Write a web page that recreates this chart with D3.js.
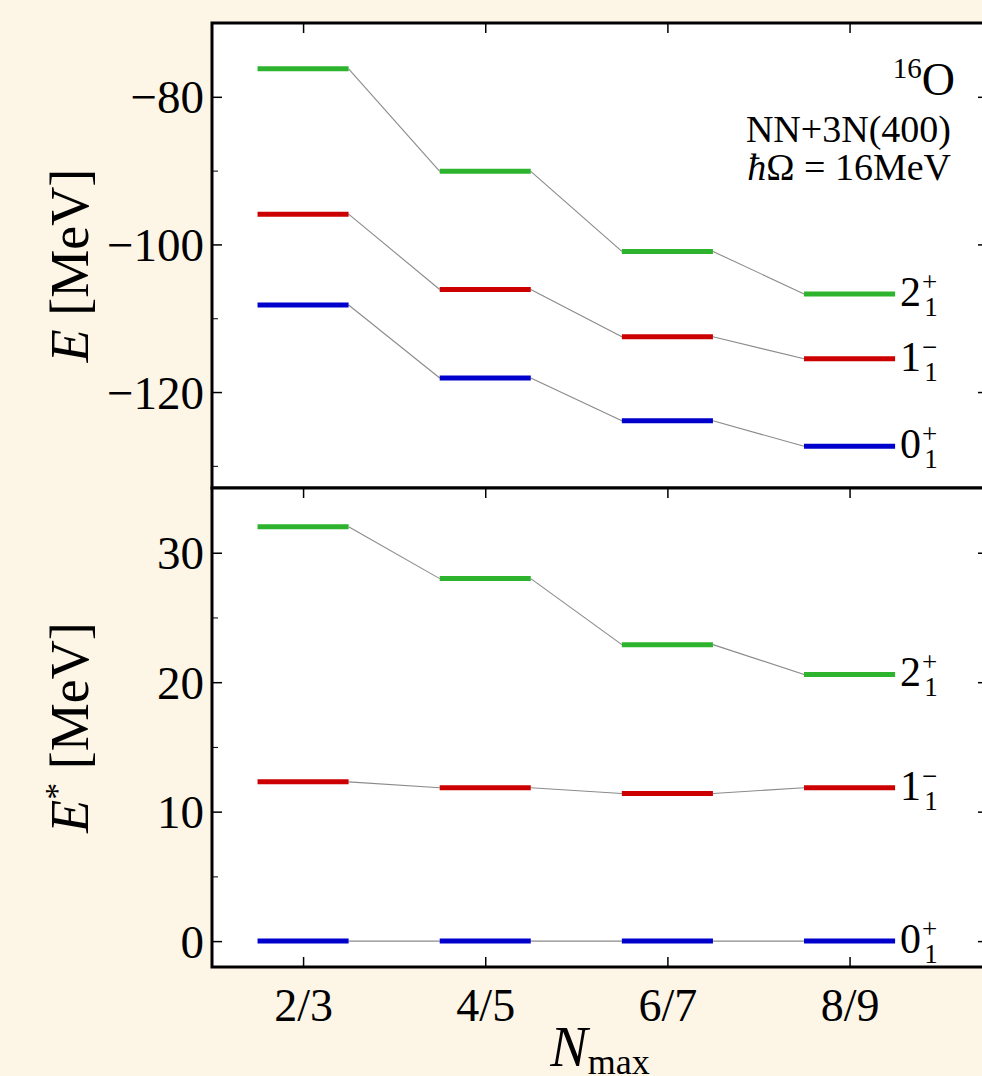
<!DOCTYPE html>
<html>
<head>
<meta charset="utf-8">
<script src="https://cdn.jsdelivr.net/npm/d3@7"></script>
<style>
  body { margin: 0; background: #fdf5e6; }
  svg { display: block; font-family: "Liberation Serif", "DejaVu Serif", serif; }
</style>
</head>
<body>
<svg id="chart" width="982" height="1076"></svg>
<script>
// N_max model spaces
const categories = ['2/3', '4/5', '6/7', '8/9'];

// absolute energies E [MeV]
const energyGround = [-108.2, -118.1, -123.9, -127.35];
const energyOneMinus = [-95.9, -106.1, -112.5, -115.5];
const energyTwoPlus = [-76.2, -90.1, -100.95, -106.7];

// excitation energies E* [MeV]
const excGround = [0, 0, 0, 0];
const excOneMinus = [12.3, 11.85, 11.4, 11.85];
const excTwoPlus = [32.0, 28.0, 22.9, 20.6];

const states = [
  { name: '0', sign: '+', color: '#0000cc' },
  { name: '1', sign: '\u2212', color: '#cc0000' },
  { name: '2', sign: '+', color: '#2db32d' }
];

const topTicks = [-80, -100, -120];
const topMinor = [-90, -110, -130];
const botTicks = [0, 10, 20, 30];
const botMinor = [5, 15, 25];

const svg = d3.select('#chart');
const pLeft = 212, pRight = 988, pTop = 23, pMid = 488, pBottom = 967;

const x = d3.scaleLinear().domain([-0.5, 3.76]).range([pLeft, pRight]);
const yTop = d3.scaleLinear().domain([-133, -70]).range([pMid, pTop]);
const yBot = d3.scaleLinear().domain([-2, 35]).range([pBottom, pMid]);
const halfW = 0.25;

function panel(y, series, major, minor, y0, y1) {
  const g = svg.append('g');
  g.append('rect')
    .attr('x', pLeft).attr('y', y0)
    .attr('width', pRight - pLeft).attr('height', y1 - y0)
    .attr('fill', '#fff');

  // connectors
  series.forEach(vals => {
    for (let i = 0; i < vals.length - 1; i++) {
      g.append('line')
        .attr('x1', x(i + halfW)).attr('y1', y(vals[i]))
        .attr('x2', x(i + 1 - halfW)).attr('y2', y(vals[i + 1]))
        .attr('stroke', '#8a8a8a').attr('stroke-width', 1.1);
    }
  });
  // levels
  series.forEach((vals, s) => {
    g.selectAll(null).data(vals).join('line')
      .attr('x1', (d, i) => x(i - halfW)).attr('x2', (d, i) => x(i + halfW))
      .attr('y1', d => y(d)).attr('y2', d => y(d))
      .attr('stroke', states[s].color).attr('stroke-width', 5);
    // level label J^pi_1
    const last = vals[vals.length - 1];
    const t = g.append('text')
      .attr('x', x(vals.length - 1 + halfW) + 5)
      .attr('y', y(last) + 12)
      .attr('font-size', 42);
    t.append('tspan').text(states[s].name);
    t.append('tspan').attr('font-size', 27).attr('dx', 1).attr('dy', -15).text(states[s].sign);
    t.append('tspan').attr('font-size', 27).attr('dx', -13).attr('dy', 25).text('1');
  });

  // left axis
  const la = g.append('g').attr('transform', `translate(${pLeft},0)`)
    .call(d3.axisLeft(y).tickValues(major).tickSize(-10).tickPadding(8)
      .tickFormat(d => d < 0 ? '\u2212' + Math.abs(d) : d));
  la.select('.domain').remove();
  la.selectAll('text').attr('font-size', 47).attr('font-family', 'Liberation Serif').attr('fill', '#000').attr('dy', '0.34em');
  la.selectAll('line').attr('stroke-width', 1.5);
  const lm = g.append('g').attr('transform', `translate(${pLeft},0)`)
    .call(d3.axisLeft(y).tickValues(minor).tickSize(-6).tickFormat(''));
  lm.select('.domain').remove();

  // right axis (ticks only)
  const ra = g.append('g').attr('transform', `translate(${pRight},0)`)
    .call(d3.axisRight(y).tickValues(major).tickSize(-10).tickFormat(''));
  ra.select('.domain').remove();
  ra.selectAll('line').attr('stroke-width', 1.5);
  const rm = g.append('g').attr('transform', `translate(${pRight},0)`)
    .call(d3.axisRight(y).tickValues(minor).tickSize(-6).tickFormat(''));
  rm.select('.domain').remove();

  // top x ticks
  const ta = g.append('g').attr('transform', `translate(0,${y0})`)
    .call(d3.axisTop(x).tickValues(d3.range(categories.length)).tickSize(-10).tickFormat(''));
  ta.select('.domain').remove();
  ta.selectAll('line').attr('stroke-width', 1.5);

  g.append('rect')
    .attr('x', pLeft).attr('y', y0)
    .attr('width', pRight - pLeft).attr('height', y1 - y0)
    .attr('fill', 'none').attr('stroke', '#000').attr('stroke-width', 3);
  return g;
}

panel(yTop, [energyGround, energyOneMinus, energyTwoPlus], topTicks, topMinor, pTop, pMid);
panel(yBot, [excGround, excOneMinus, excTwoPlus], botTicks, botMinor, pMid, pBottom);

// bottom x axis
const xa = svg.append('g').attr('transform', `translate(0,${pBottom})`)
  .call(d3.axisBottom(x).tickValues(d3.range(categories.length)).tickSize(-10).tickPadding(10)
    .tickFormat(i => categories[i]));
xa.select('.domain').remove();
xa.selectAll('line').attr('stroke-width', 1.5);
xa.selectAll('text').attr('font-size', 46).attr('font-family', 'Liberation Serif').attr('fill', '#000').attr('dy', '0.95em');

// axis labels
const yl1 = svg.append('text')
  .attr('transform', `translate(88,${(pTop + pMid) / 2 + 10}) rotate(-90)`)
  .attr('text-anchor', 'middle').attr('font-size', 54);
yl1.append('tspan').attr('font-style', 'italic').text('E');
yl1.append('tspan').text(' [MeV]');

const yl2 = svg.append('text')
  .attr('transform', `translate(88,${(pMid + pBottom) / 2}) rotate(-90)`)
  .attr('text-anchor', 'middle').attr('font-size', 54);
yl2.append('tspan').attr('font-style', 'italic').text('E');
yl2.append('tspan').attr('font-size', 34).attr('dy', -20).text('*');
yl2.append('tspan').attr('dy', 20).text(' [MeV]');

const xl = svg.append('text')
  .attr('x', 600).attr('y', 1066)
  .attr('text-anchor', 'middle').attr('font-size', 56);
xl.append('tspan').attr('font-style', 'italic').text('N');
xl.append('tspan').attr('font-size', 36).attr('dy', 8).text('max');

// annotation
const ann = svg.append('text').attr('x', 955).attr('y', 95)
  .attr('text-anchor', 'end').attr('font-size', 46);
ann.append('tspan').attr('font-size', 29).attr('dy', -17).text('16');
ann.append('tspan').attr('dy', 17).text('O');

svg.append('text').attr('x', 951).attr('y', 142)
  .attr('text-anchor', 'end').attr('font-size', 38).text('NN+3N(400)');
const hw = svg.append('text').attr('x', 951).attr('y', 180)
  .attr('text-anchor', 'end').attr('font-size', 38);
hw.append('tspan').attr('font-style', 'italic').text('\u0127');
hw.append('tspan').text('\u03A9 = 16MeV');
</script>
</body>
</html>
